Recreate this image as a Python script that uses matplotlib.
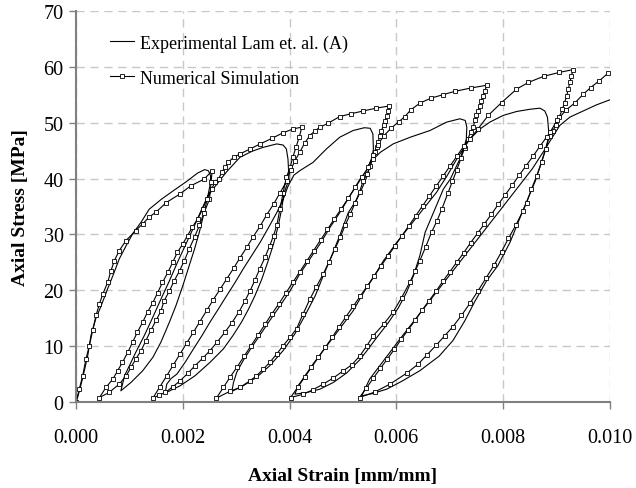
import numpy as np
import matplotlib
matplotlib.use("Agg")
import matplotlib.pyplot as plt

plt.rcParams['font.family'] = ['Liberation Serif', 'DejaVu Serif']

# cyclic compression test, strain in 1e-3 mm/mm, stress in MPa
# numerical simulation, branch by branch
num_load1 = [(0, 0), (0.062, 2.3), (0.125, 4.7), (0.187, 7.7), (0.25, 10.1), (0.312, 12.8),
             (0.375, 15.5), (0.437, 17.5), (0.5, 19.3), (0.593, 21.4), (0.655, 23.5), (0.718, 25.3),
             (0.81, 27.1), (0.936, 28.9), (1.12, 30.7), (1.25, 31.9), (1.37, 33.1), (1.5, 34.0),
             (1.69, 35.7), (1.94, 37.2), (2.15, 38.7), (2.40, 39.9), (2.55, 41.4)]
num_unload1 = [(2.53, 39.3), (2.50, 36.3), (2.40, 33.9), (2.31, 31.6), (2.22, 29.5), (2.12, 27.4),
               (2.03, 25.3), (1.94, 23.5), (1.84, 21.7), (1.75, 19.9), (1.65, 18.1), (1.59, 16.3),
               (1.50, 14.6), (1.40, 12.8), (1.31, 11.0), (1.22, 9.2), (1.12, 7.7), (1.03, 6.2),
               (0.94, 4.7), (0.81, 3.2), (0.62, 1.7), (0.44, 0.8)]
num_reload1 = [(0.56, 2.6), (0.69, 4.1), (0.78, 5.6), (0.87, 7.1), (0.97, 8.9), (1.06, 10.7),
               (1.15, 12.5), (1.25, 14.3), (1.34, 16.1), (1.44, 17.8), (1.53, 19.6), (1.62, 21.4),
               (1.72, 23.2), (1.81, 25.0), (1.90, 26.8), (2.00, 28.3), (2.09, 29.8), (2.18, 31.3),
               (2.28, 32.8), (2.37, 34.5), (2.45, 36.3), (2.54, 38.1), (2.60, 39.3), (2.67, 39.9),
               (2.73, 41.1), (2.79, 42.0), (2.85, 42.9), (2.95, 43.8), (3.07, 44.4), (3.26, 45.3),
               (3.45, 46.2), (3.67, 47.2), (3.88, 48.2), (4.07, 48.9), (4.23, 49.2)]
num_unload2 = [(4.18, 47.4), (4.12, 45.6), (4.06, 43.8), (4.01, 42.0), (3.94, 40.2), (3.88, 37.5),
               (3.82, 34.6), (3.76, 31.6), (3.70, 29.8), (3.63, 28.0), (3.54, 25.9), (3.44, 23.8),
               (3.35, 21.8), (3.26, 19.9), (3.16, 18.0), (3.05, 16.1), (2.92, 14.2), (2.79, 12.5),
               (2.65, 10.8), (2.51, 9.2), (2.37, 7.8), (2.23, 6.5), (2.09, 5.1), (1.95, 3.8),
               (1.81, 2.7), (1.67, 1.7), (1.55, 1.2), (1.44, 0.7)]
num_reload2 = [(1.57, 2.7), (1.70, 4.7), (1.82, 6.6), (1.95, 8.6), (2.07, 10.5), (2.20, 12.5),
               (2.32, 14.4), (2.45, 16.4), (2.57, 18.3), (2.70, 20.2), (2.82, 22.0), (2.95, 23.9),
               (3.07, 25.8), (3.20, 27.7), (3.32, 29.6), (3.45, 31.5), (3.57, 33.5), (3.70, 35.4),
               (3.82, 37.4), (3.95, 39.6), (4.02, 41.5), (4.10, 43.2), (4.19, 44.7), (4.28, 46.3),
               (4.38, 47.7), (4.47, 48.5), (4.57, 49.2), (4.72, 49.9), (4.94, 51.1), (5.15, 51.6),
               (5.38, 52.1), (5.62, 52.6), (5.87, 53.0)]
num_unload3 = [(5.85, 52.1), (5.82, 51.2), (5.79, 50.3), (5.76, 49.5), (5.72, 48.6), (5.69, 47.7),
               (5.66, 46.5), (5.63, 45.6), (5.60, 44.7), (5.56, 43.5), (5.51, 42.3), (5.45, 40.8),
               (5.38, 39.6), (5.31, 37.6), (5.23, 35.7), (5.14, 33.7), (5.04, 31.6), (4.95, 29.5),
               (4.85, 27.4), (4.74, 25.1), (4.63, 22.9), (4.50, 20.6), (4.38, 18.4), (4.25, 15.7),
               (4.13, 13.1), (4.01, 11.6), (3.88, 10.1), (3.76, 8.6), (3.63, 7.1), (3.51, 5.9),
               (3.38, 4.7), (3.26, 3.8), (3.07, 2.6), (2.88, 1.9), (2.63, 0.7)]
num_reload3 = [(2.76, 2.6), (2.89, 4.5), (3.02, 6.3), (3.15, 8.2), (3.28, 10.1), (3.41, 12.0),
               (3.54, 13.9), (3.67, 15.8), (3.80, 17.6), (3.93, 19.5), (4.06, 21.4), (4.19, 23.3),
               (4.32, 25.2), (4.45, 27.1), (4.58, 29.0), (4.71, 30.9), (4.84, 32.8), (4.97, 34.6),
               (5.10, 36.5), (5.23, 38.4), (5.36, 40.3), (5.47, 42.0), (5.56, 44.2), (5.65, 46.0),
               (5.76, 47.6), (5.90, 49.0), (6.05, 50.2), (6.16, 51.1), (6.27, 52.3), (6.44, 53.5),
               (6.65, 54.4), (6.87, 55.0), (7.09, 55.6), (7.39, 56.2), (7.69, 56.7)]
num_unload4 = [(7.66, 55.7), (7.63, 54.8), (7.59, 53.9), (7.56, 53.0), (7.53, 52.1), (7.50, 51.3),
               (7.47, 50.4), (7.44, 49.2), (7.39, 48.3), (7.34, 47.1), (7.28, 45.5), (7.21, 43.6),
               (7.13, 41.5), (7.05, 39.5), (6.97, 37.5), (6.85, 34.5), (6.76, 32.4), (6.66, 30.4),
               (6.55, 27.8), (6.44, 25.3), (6.35, 23.4), (6.25, 21.4), (6.10, 18.7), (5.94, 16.1),
               (5.76, 13.9), (5.57, 11.9), (5.45, 10.1), (5.32, 8.3), (5.17, 6.7), (5.01, 5.6),
               (4.82, 4.3), (4.63, 3.2), (4.44, 2.2), (4.26, 1.4), (4.02, 0.8)]
num_reload4 = [(4.15, 2.6), (4.28, 4.4), (4.41, 6.2), (4.54, 8.0), (4.67, 9.8), (4.80, 11.6),
               (4.93, 13.5), (5.06, 15.3), (5.19, 17.1), (5.32, 18.9), (5.45, 20.7), (5.58, 22.5),
               (5.71, 24.3), (5.84, 26.1), (5.97, 27.9), (6.10, 29.7), (6.23, 31.5), (6.36, 33.3),
               (6.49, 35.1), (6.62, 36.9), (6.75, 38.7), (6.88, 40.5), (7.01, 42.3), (7.14, 44.1),
               (7.27, 45.9), (7.38, 47.1), (7.53, 48.9), (7.72, 51.3), (7.97, 53.6), (8.25, 56.0),
               (8.47, 57.2), (8.76, 58.3), (9.05, 59.0), (9.31, 59.5)]
num_unload5 = [(9.28, 58.4), (9.25, 57.2), (9.22, 56.0), (9.19, 54.8), (9.15, 53.6), (9.11, 52.4),
               (9.05, 51.0), (8.99, 49.5), (8.93, 48.6), (8.87, 47.7), (8.80, 45.3), (8.72, 42.9),
               (8.63, 40.5), (8.53, 38.1), (8.44, 35.7), (8.37, 34.2), (8.24, 31.7), (8.10, 29.3),
               (7.97, 26.9), (7.83, 24.5), (7.68, 22.2), (7.53, 19.9), (7.38, 17.7), (7.22, 15.5),
               (7.06, 13.5), (6.91, 11.9), (6.75, 10.2), (6.58, 8.5), (6.41, 6.8), (6.20, 5.2),
               (5.88, 3.2), (5.60, 1.8), (5.31, 0.8)]
num_reload5 = [(5.44, 2.5), (5.57, 4.3), (5.70, 6.0), (5.83, 7.7), (5.96, 9.4), (6.09, 11.2),
               (6.22, 12.9), (6.35, 14.6), (6.48, 16.4), (6.61, 18.1), (6.74, 19.8), (6.87, 21.6),
               (7.00, 23.3), (7.13, 25.0), (7.26, 26.7), (7.39, 28.5), (7.52, 30.2), (7.65, 31.9),
               (7.78, 33.6), (7.91, 35.4), (8.04, 37.1), (8.17, 38.8), (8.30, 40.6), (8.43, 42.3),
               (8.56, 44.0), (8.69, 45.8), (8.82, 47.5), (8.88, 48.3), (9.01, 50.4), (9.17, 52.2),
               (9.35, 53.6), (9.50, 55.1), (9.64, 56.3), (9.80, 57.5), (9.97, 58.9)]

# experimental curve (Lam et al.), same units
exp_load1 = [(0, 0), (0.03, 0.8), (0.12, 4.1), (0.22, 8.3), (0.28, 11.9), (0.37, 14.9), (0.47, 17.2),
             (0.59, 20.2), (0.69, 22.6), (0.81, 25.6), (0.94, 28.0), (1.06, 30.1), (1.22, 32.2),
             (1.37, 34.5), (1.60, 36.3), (1.82, 37.8), (2.06, 39.4), (2.28, 41.0), (2.41, 41.6),
             (2.48, 41.4), (2.52, 40.5)]
exp_unload1 = [(2.52, 39.3), (2.47, 36.9), (2.40, 33.9), (2.31, 30.4), (2.22, 27.4), (2.12, 24.4),
               (2.00, 20.8), (1.87, 17.2), (1.75, 14.3), (1.59, 10.7), (1.44, 8.0), (1.25, 5.6),
               (1.03, 3.5), (0.84, 2.0)]
exp_reload1 = [(0.91, 4.7), (1.00, 6.5), (1.12, 8.9), (1.28, 11.9), (1.44, 15.2), (1.59, 18.4),
               (1.75, 21.7), (1.90, 25.0), (2.06, 28.3), (2.22, 31.6), (2.34, 34.2), (2.47, 36.9),
               (2.63, 38.9), (2.82, 41.2), (3.07, 43.8), (3.30, 44.9), (3.51, 45.6), (3.76, 46.2),
               (3.88, 46.0), (3.94, 45.3), (3.97, 43.5), (3.99, 39.9)]
exp_unload2 = [(3.90, 37.5), (3.85, 34.5), (3.79, 31.6), (3.70, 28.3), (3.60, 25.3), (3.48, 22.0),
               (3.35, 19.0), (3.23, 16.6), (3.10, 14.3), (2.94, 11.9), (2.76, 9.5), (2.51, 7.1),
               (2.23, 4.7), (1.95, 2.9), (1.67, 1.6)]
exp_reload2 = [(1.70, 3.2), (1.78, 4.2), (1.89, 5.0), (2.05, 7.2), (2.20, 9.5), (2.36, 11.9),
               (2.51, 14.3), (2.67, 16.7), (2.82, 19.0), (2.98, 21.4), (3.13, 23.8), (3.29, 26.2),
               (3.45, 28.6), (3.61, 31.3), (3.76, 33.9), (3.88, 36.3), (3.97, 38.6), (4.08, 40.6),
               (4.19, 41.4), (4.44, 42.9), (4.69, 45.3), (4.94, 47.4), (5.19, 48.6), (5.40, 49.1),
               (5.51, 49.0), (5.56, 48.0), (5.57, 45.3), (5.54, 43.5), (5.49, 41.7), (5.43, 39.9)]
exp_unload3 = [(5.35, 38.1), (5.26, 36.3), (5.10, 33.9), (4.94, 29.8), (4.79, 26.2), (4.63, 22.6),
               (4.48, 19.0), (4.29, 15.5), (4.10, 12.2), (3.88, 9.2), (3.63, 6.5), (3.38, 4.4),
               (3.13, 2.9), (2.92, 1.9)]
exp_reload3 = [(2.95, 3.5), (3.01, 5.3), (3.13, 7.4), (3.29, 9.8), (3.44, 11.9), (3.63, 14.6),
               (3.82, 17.2), (4.01, 19.9), (4.19, 22.9), (4.38, 25.6), (4.57, 28.3), (4.76, 31.3),
               (4.94, 33.9), (5.13, 36.9), (5.32, 39.9), (5.44, 41.4), (5.51, 42.9), (5.70, 44.7),
               (5.94, 46.2), (6.26, 47.4), (6.63, 48.6), (6.94, 50.1), (7.19, 50.7), (7.29, 50.4),
               (7.32, 49.2), (7.31, 47.1), (7.26, 45.3), (7.19, 43.5), (7.10, 41.7), (7.01, 39.9),
               (6.88, 38.1)]
exp_unload4 = [(6.70, 34.0), (6.54, 30.4), (6.44, 26.2), (6.32, 22.6), (6.19, 19.6), (6.04, 16.9),
               (5.85, 14.2), (5.63, 11.5), (5.45, 9.2), (5.32, 7.6), (5.07, 5.2), (4.82, 3.5),
               (4.57, 2.3), (4.32, 1.7), (4.10, 1.4)]
exp_reload4 = [(4.16, 2.9), (4.29, 4.7), (4.44, 6.8), (4.63, 9.2), (4.82, 11.6), (5.01, 14.0),
               (5.19, 16.3), (5.38, 19.5), (5.55, 22.0), (5.76, 25.3), (6.01, 28.6), (6.25, 31.5),
               (6.50, 34.5), (6.75, 37.5), (6.95, 40.5), (7.15, 43.8), (7.38, 47.1), (7.57, 48.9),
               (7.75, 50.1), (8.00, 51.3), (8.25, 52.0), (8.50, 52.4), (8.69, 52.6), (8.78, 52.1),
               (8.83, 51.0), (8.85, 48.9), (8.86, 47.7)]
exp_unload5 = [(8.80, 45.5), (8.72, 43.0), (8.60, 39.5), (8.48, 36.8), (8.38, 34.5), (8.13, 28.6),
               (7.90, 24.4), (7.69, 21.7), (7.47, 18.0), (7.28, 14.5), (7.06, 11.0), (6.80, 8.2),
               (6.44, 5.6), (6.10, 3.7), (5.82, 2.3), (5.55, 1.5), (5.35, 1.1)]
exp_reload5 = [(5.38, 1.7), (5.50, 4.1), (5.69, 6.5), (6.07, 11.3), (6.50, 16.6), (6.94, 22.0),
               (7.38, 27.4), (7.82, 32.8), (8.25, 38.1), (8.55, 41.8), (8.80, 45.5), (9.06, 49.5),
               (9.25, 51.0), (9.50, 52.1), (9.75, 53.2), (10.0, 54.1)]

num_branches = [num_load1, num_unload1, num_reload1, num_unload2, num_reload2, num_unload3,
                num_reload3, num_unload4, num_reload4, num_unload5, num_reload5]
exp_branches = [exp_load1, exp_unload1, exp_reload1, exp_unload2, exp_reload2, exp_unload3,
                exp_reload3, exp_unload4, exp_reload4, exp_unload5, exp_reload5]

num = np.array([p for b in num_branches for p in b])
exp = np.array([p for b in exp_branches for p in b])

fig = plt.figure(figsize=(6.36, 4.89), dpi=100)
ax = fig.add_axes([0.1195, 0.1759, 0.8395, 0.7996])

ax.plot(exp[:, 0] * 1e-3, exp[:, 1], color='black', lw=0.8,
        label='Experimental Lam et. al. (A)')
ax.plot(num[:, 0] * 1e-3, num[:, 1], color='black', lw=0.8, marker='s', ms=3,
        mfc='white', mec='black', mew=0.6, label='Numerical Simulation')

ax.set_xlim(0, 0.010)
ax.set_ylim(0, 70)
ax.set_xticks(np.arange(0, 0.0101, 0.002))
ax.set_yticks(np.arange(0, 71, 10))
ax.set_xticklabels(['%.3f' % v for v in np.arange(0, 0.0101, 0.002)])
ax.tick_params(axis='both', direction='out', length=5, width=1, color='#808080',
               labelsize=14.5, pad=4)
ax.tick_params(axis='x', pad=14)

ax.grid(True, color='#c8c8c8', linestyle=(0, (6, 4)), linewidth=1)
ax.set_axisbelow(True)
for side in ['top', 'right']:
    ax.spines[side].set_visible(False)
for side in ['left', 'bottom']:
    ax.spines[side].set_color('#808080')
    ax.spines[side].set_linewidth(1.5)

ax.set_xlabel('Axial Strain [mm/mm]', fontsize=14, fontweight='bold', labelpad=14)
ax.set_ylabel('Axial Stress [MPa]', fontsize=14, fontweight='bold', labelpad=10)

ax.legend(loc='upper left', bbox_to_anchor=(0.033, 0.982), frameon=False, fontsize=13,
          handlelength=1.35, handletextpad=0.3, labelspacing=1.0, numpoints=1)

fig.savefig('out.png', dpi=100)
